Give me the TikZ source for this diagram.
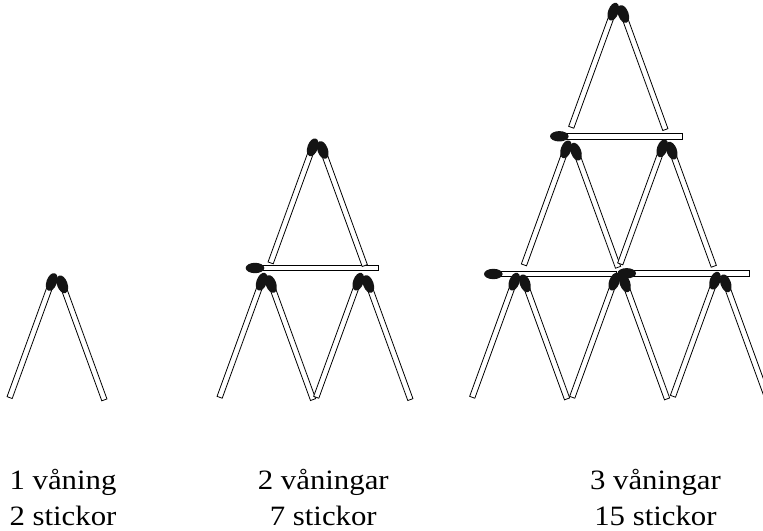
\documentclass[tikz,border=0pt]{standalone}
\usepackage{fontspec}
\setmainfont{Liberation Serif}[FakeStretch=1.1]
\tikzset{
  stick/.style={draw=black, fill=white, line width=0.6pt},
  matchhead/.style={fill=black!92},
  caption/.style={font=\fontsize{21}{26}\selectfont, inner sep=0pt, anchor=base},
  % one match: head centred on the origin, stick running back along -x
  match/.pic={
    \path[stick] (-123,-2.75) rectangle (0,2.75);
    \path[matchhead] (0,0) ellipse [x radius=9.3, y radius=5.2];
  }
}
\begin{document}
\begin{tikzpicture}[x=0.75pt, y=-0.75pt]
\useasboundingbox (0,0) rectangle (763,531);
\clip (0,0) rectangle (763,531);

% ---- one storey: two matches ----
\pic (a1) [rotate=70]  at (51.7,282)  {match};
\pic (a2) [rotate=110] at (62.3,284.3) {match};

% ---- two storeys: seven matches ----
\pic (b0) [rotate=180] at (255,268) {match};
\pic (b1) [rotate=70]  at (261.7,281.7) {match};
\pic (b2) [rotate=110] at (271,284) {match};
\pic (b3) [rotate=70]  at (358.3,281.7) {match};
\pic (b4) [rotate=110] at (368.3,284) {match};
\pic (b5) [rotate=70]  at (312.7,147.3) {match};
\pic (b6) [rotate=110] at (322.7,150) {match};

% ---- three storeys: fifteen matches ----
\pic (c0) [rotate=180] at (493.3,274) {match};
\pic (c1) [rotate=180] at (626.7,273.3) {match};
\pic (c2) [rotate=180] at (559.3,136.3) {match};
\pic (c3) [rotate=70]  at (514.3,281.7) {match};
\pic (c4) [rotate=110] at (525,283.3) {match};
\pic (c5) [rotate=70]  at (614.3,281.7) {match};
\pic (c6) [rotate=110] at (625,283.3) {match};
\pic (c7) [rotate=70]  at (715,280.7) {match};
\pic (c8) [rotate=110] at (725.7,283.3) {match};
\pic (c9) [rotate=70]  at (566,149.3) {match};
\pic (c10) [rotate=110] at (576,151.7) {match};
\pic (c11) [rotate=70]  at (662.3,148.3) {match};
\pic (c12) [rotate=110] at (671.7,150.7) {match};
\pic (c13) [rotate=70]  at (613.3,11.7) {match};
\pic (c14) [rotate=110] at (623.3,14) {match};

% ---- captions ----
\node[caption, anchor=base west] (t1a) at (9.3,489.3) {1 våning};
\node[caption, anchor=base west] (t1b) at (9.3,525) {2 stickor};
\node[caption] (t2a) at (323.3,489.3) {2 våningar};
\node[caption] (t2b) at (323.3,525) {7 stickor};
\node[caption] (t3a) at (655.5,489.3) {3 våningar};
\node[caption] (t3b) at (655.5,525) {15 stickor};
\end{tikzpicture}
\end{document}
